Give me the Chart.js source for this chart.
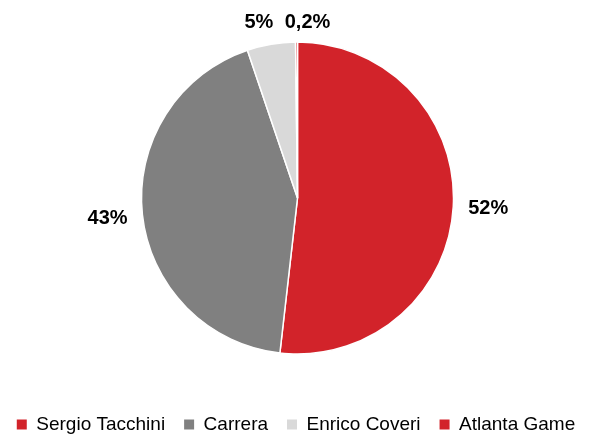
<!DOCTYPE html>
<html>
<head>
<meta charset="utf-8">
<script src="https://cdn.jsdelivr.net/npm/chart.js@4/dist/chart.umd.min.js"></script>
<style>
  html, body { margin: 0; padding: 0; background: #ffffff; }
  #c { display: block; }
</style>
</head>
<body>
<canvas id="c" width="598" height="435"></canvas>
<script>
const categories = ["Sergio Tacchini", "Carrera", "Enrico Coveri", "Atlanta Game"];
const shares = [51.8, 43.0, 5.0, 0.2];
const sliceColors = ["#D2232A", "#808080", "#D9D9D9", "#D2232A"];

const FONT = "'Liberation Sans', Arial, sans-serif";

function fmtPct(v) {
  if (v < 1) return v.toFixed(1).replace('.', ',') + '%';
  return Math.round(v) + '%';
}

const outsideLabels = {
  id: 'outsideLabels',
  afterDatasetsDraw(chart, args, opts) {
    const ctx = chart.ctx;
    const meta = chart.getDatasetMeta(0);
    const data = chart.data.datasets[0].data;
    ctx.save();
    ctx.font = opts.font;
    ctx.fillStyle = opts.color;
    ctx.textAlign = 'center';
    ctx.textBaseline = 'middle';
    meta.data.forEach((arc, i) => {
      const p = arc.getProps(['x', 'y', 'startAngle', 'endAngle', 'outerRadius'], true);
      const mid = (p.startAngle + p.endAngle) / 2;
      const d = p.outerRadius + opts.offset;
      const n = (opts.nudge && opts.nudge[i]) || [0, 0];
      const x = p.x + Math.cos(mid) * d + n[0];
      const y = p.y + Math.sin(mid) * d + n[1];
      ctx.fillText(fmtPct(data[i]), x, y);
    });
    ctx.restore();
  }
};

new Chart(document.getElementById('c'), {
  type: 'pie',
  data: {
    labels: categories,
    datasets: [{
      data: shares,
      backgroundColor: sliceColors,
      borderColor: '#ffffff',
      borderWidth: 1.5,
      radius: 156
    }]
  },
  options: {
    responsive: false,
    animation: false,
    layout: { padding: { top: -2, bottom: -9, left: -3, right: 3 } },
    plugins: {
      tooltip: { enabled: false },
      legend: {
        position: 'bottom',
        labels: {
          boxWidth: 10,
          boxHeight: 10,
          padding: 19,
          color: '#000000',
          font: { family: FONT, size: 19 },
          generateLabels(chart) {
            const ds = chart.data.datasets[0];
            return chart.data.labels.map((l, i) => ({
              text: l,
              fillStyle: ds.backgroundColor[i],
              strokeStyle: ds.backgroundColor[i],
              lineWidth: 0,
              hidden: false,
              index: i
            }));
          }
        }
      },
      outsideLabels: {
        font: "bold 20px " + FONT,
        color: '#000000',
        offset: 35,
        nudge: { 2: [-6.3, 12.5], 3: [11.2, 15] }
      }
    }
  },
  plugins: [outsideLabels]
});
</script>
</body>
</html>
